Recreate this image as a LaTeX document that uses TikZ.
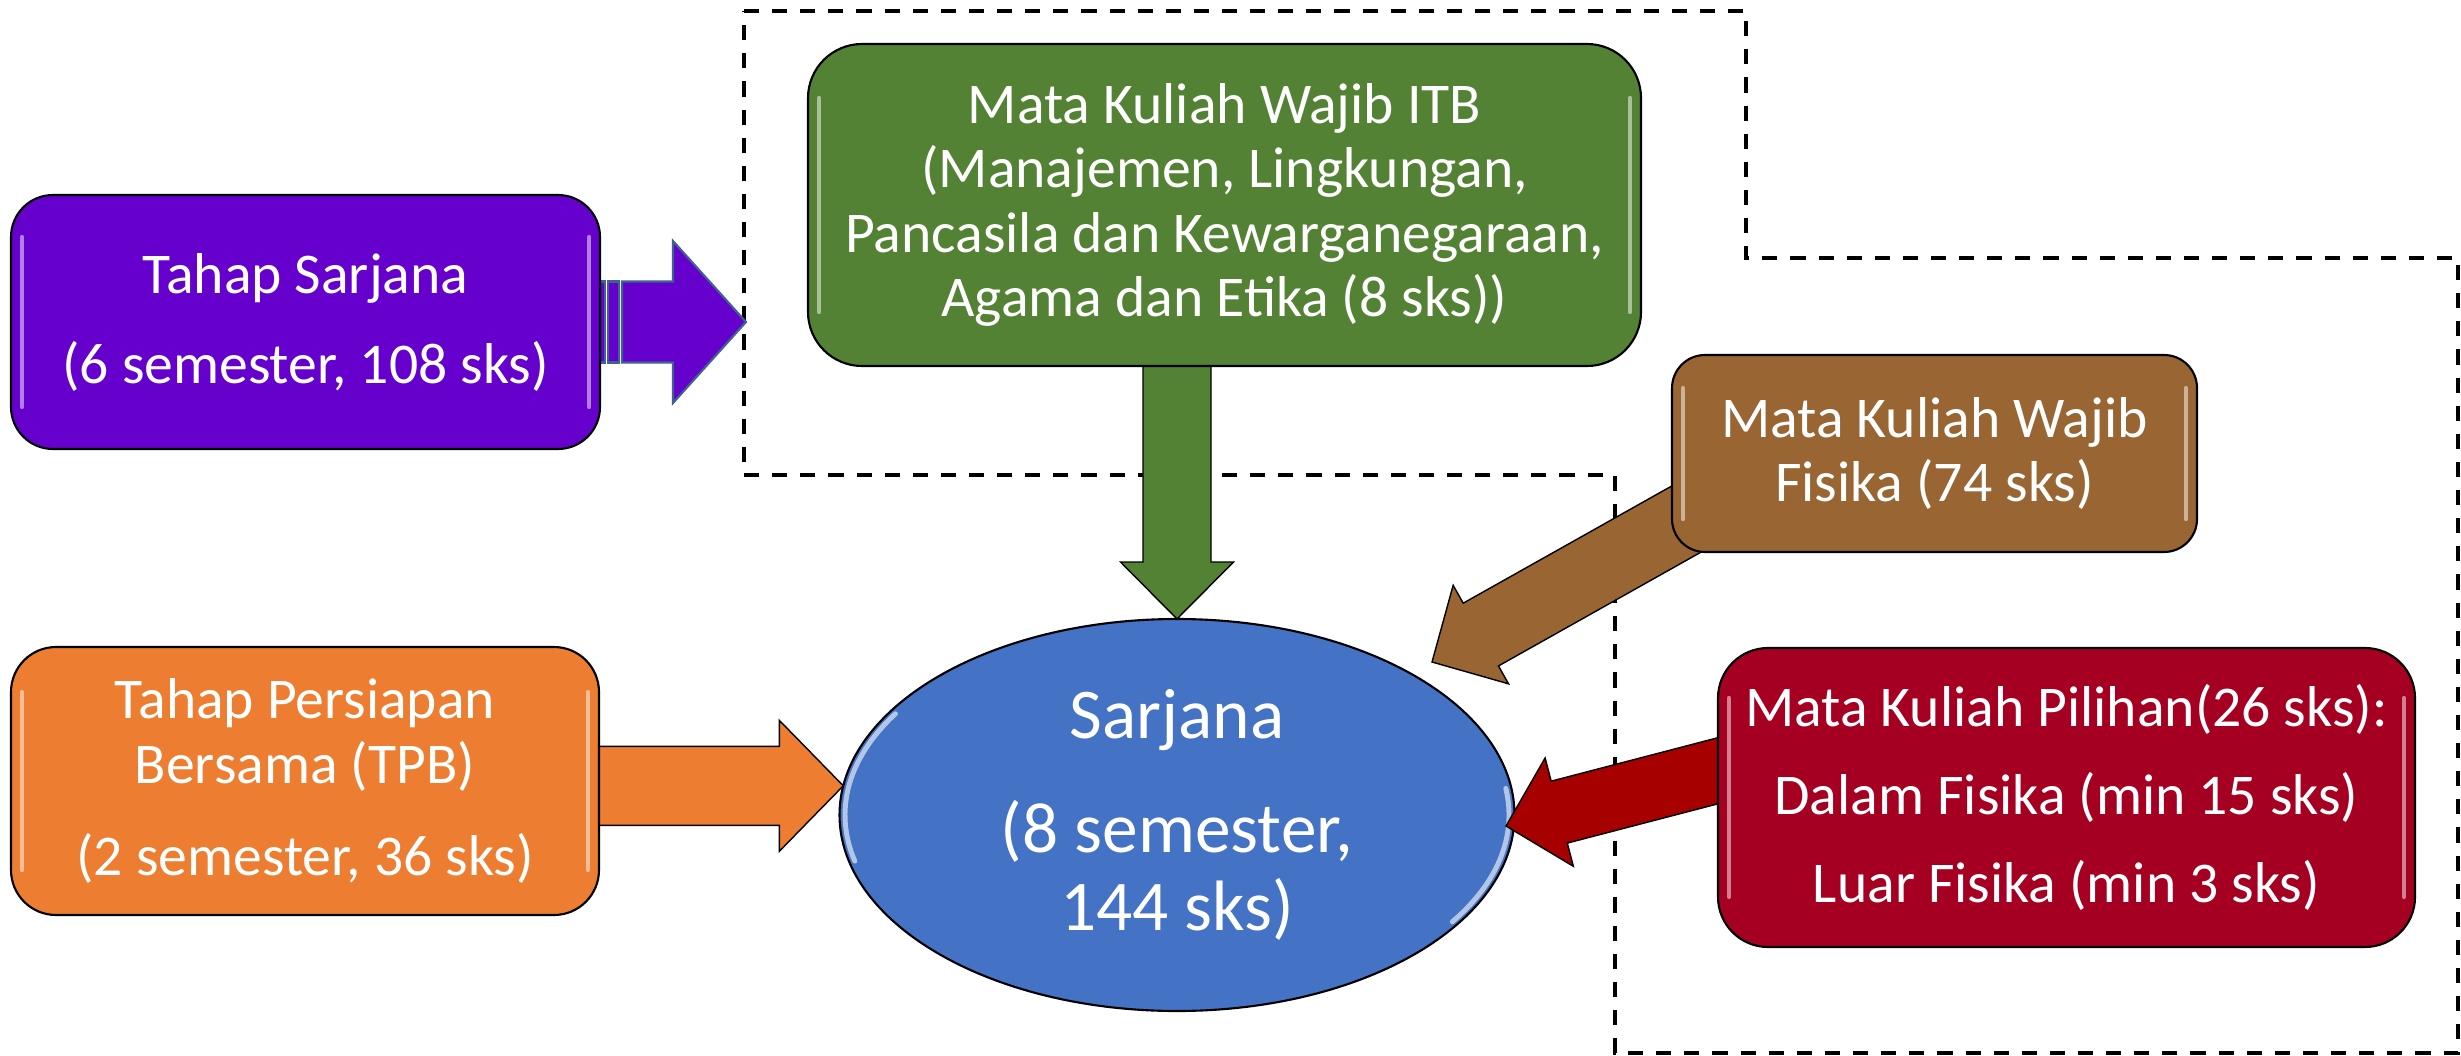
\documentclass[tikz,border=0pt]{standalone}
\usepackage{fontspec}
\setmainfont{Carlito}
\usetikzlibrary{calc,shapes.geometric}
\definecolor{cPurple}{HTML}{6600CC}
\definecolor{cPurpleLine}{HTML}{3F6293}
\definecolor{cGreen}{HTML}{548235}
\definecolor{cBrown}{HTML}{996633}
\definecolor{cOrange}{HTML}{ED7D31}
\definecolor{cBlue}{HTML}{4472C4}
\definecolor{cRed}{HTML}{A50021}
\definecolor{cRedArrow}{HTML}{A60000}
\pgfdeclarelayer{back}
\pgfdeclarelayer{arr}
\pgfsetlayers{back,arr,main}
% #1 style, #2 start, #3 tip, #4 half shaft, #5 half head, #6 head length
\newcommand\blockarrow[6]{%
  \coordinate (ba-h) at ($(#3)!#6!(#2)$);
  \filldraw[#1] ($(#2)!#4!90:(#3)$) -- ($(ba-h)!#4!-90:(#2)$) -- ($(ba-h)!#5!-90:(#2)$) -- (#3)
    -- ($(ba-h)!#5!90:(#2)$) -- ($(ba-h)!#4!90:(#2)$) -- ($(#2)!#4!-90:(#3)$) -- cycle;
}
% gloss lines inside a box: #1 node, #2 corner radius (px)
\newcommand\glossbox[2]{%
  \draw[glossline] ($(#1.north west)+(11,#2)$) -- ($(#1.south west)+(11,-#2)$);
  \draw[glossline] ($(#1.north east)+(-11,#2)$) -- ($(#1.south east)+(-11,-#2)$);
}
\begin{document}
\begin{tikzpicture}[x=0.1mm,y=-0.1mm,
  box/.style={rectangle, rounded corners=#1, draw=black, line width=0.6pt,
    inner sep=0pt, outer sep=0pt, text=white, align=center,
    font=\fontsize{16.4}{18.3}\selectfont},
  glossline/.style={white, opacity=0.5, line width=1.2pt, line cap=round},
  ellgloss/.style={cBlue!25!white, opacity=0.8, line width=1.4pt, line cap=round},
  arrowline/.style={draw=black, line width=0.4pt},
  parrow/.style={fill=cPurple, draw=cPurpleLine, line width=0.6pt},
  oarrow/.style={arrowline, fill=cOrange},
  garrow/.style={arrowline, fill=cGreen},
  barrow/.style={arrowline, fill=cBrown},
  rarrow/.style={arrowline, fill=cRedArrow},
  region/.style={draw=black, line width=0.95pt, dash pattern=on 4.3pt off 3.7pt}
]
\path[use as bounding box] (0,0) rectangle (2461,1056);

% ---------- boxes ----------
\node[box=4.2mm, fill=cPurple, minimum width=58.9mm, minimum height=25.4mm]
  (sarjanabox) at (305.5,322)
  {Tahap Sarjana\\[7.3pt](6 semester, 108 sks)};
\node[box=4.5mm, fill=cOrange, minimum width=58.8mm, minimum height=26.8mm]
  (tpbbox) at (305,781)
  {Tahap Persiapan\\Bersama (TPB)\\[7.9pt](2 semester, 36 sks)};
\node[box=5.4mm, fill=cGreen, minimum width=83.3mm, minimum height=32.2mm]
  (itbbox) at (1224.5,205)
  {Mata Kuliah Wajib ITB\\(Manajemen, Lingkungan,\\Pancasila dan Kewarganegaraan,\\Agama dan Etika (8 sks))};
\node[box=3.3mm, fill=cBrown, minimum width=52.5mm, minimum height=19.7mm]
  (fisikabox) at (1934.5,453.5)
  {Mata Kuliah Wajib\\Fisika (74 sks)};
\node[box=5mm, fill=cRed, minimum width=69.7mm, minimum height=29.9mm]
  (pilihanbox) at (2066.5,797.5)
  {Mata Kuliah Pilihan(26 sks):\\[6.7pt]Dalam Fisika (min 15 sks)\\[6.7pt]Luar Fisika (min 3 sks)};

\glossbox{sarjanabox}{42}
\glossbox{tpbbox}{45}
\glossbox{itbbox}{54}
\glossbox{fisikabox}{33}
\glossbox{pilihanbox}{50}

% ---------- background: dashed region and ellipse ----------
\begin{pgfonlayer}{back}
  \fill[white] (0,0) rectangle (2461,1056);
  \draw[region] (744,11) -- (1746,11) -- (1746,258) -- (2458,258) -- (2458,1053)
    -- (1615,1053) -- (1615,475) -- (744,475) -- cycle;
  \node[ellipse, draw=black, line width=0.6pt, fill=cBlue, minimum width=67.5mm,
    minimum height=39.2mm, inner sep=0pt, outer sep=0pt] (ell) at (1177,815) {};
  \draw[ellgloss] ($(ell.center)+({332*cos(166)},{191*sin(166)})$)
    arc[start angle=166, end angle=212, x radius=332, y radius=191];
  \draw[ellgloss] ($(ell.center)+({332*cos(-8)},{191*sin(-8)})$)
    arc[start angle=-8, end angle=34, x radius=332, y radius=191];
\end{pgfonlayer}

% ---------- block arrows ----------
\begin{pgfonlayer}{arr}
  % purple striped arrow
  \coordinate (pS) at ($(sarjanabox.east)+(22,0)$);
  \coordinate (ptip) at ($(sarjanabox.east)+(146,0)$);
  \blockarrow{parrow}{pS}{ptip}{4.05mm}{8.1mm}{7.3mm}
  \filldraw[parrow] ($(sarjanabox.east)+(0,-40.5)$) rectangle ($(sarjanabox.east)+(5,40.5)$);
  \filldraw[parrow] ($(sarjanabox.east)+(8,-40.5)$) rectangle ($(sarjanabox.east)+(19,40.5)$);
  % orange
  \coordinate (oS) at (tpbbox.east |- ell.175);
  \blockarrow{oarrow}{oS}{ell.175}{3.95mm}{6.55mm}{6.4mm}
  % green
  \coordinate (gS) at (ell.north |- itbbox.south);
  \blockarrow{garrow}{gS}{ell.north}{3.4mm}{5.65mm}{5.7mm}
  % brown
  \coordinate (bS) at ($(fisikabox.south west)+(18,-35)$);
  \coordinate (btip) at (1432,662);
  \blockarrow{barrow}{bS}{btip}{3.6mm}{5.65mm}{5.6mm}
  % red
  \coordinate (rS) at ($(pilihanbox.west)+(22,-32.5)$);
  \coordinate (rtip) at (1506,826);
  \blockarrow{rarrow}{rS}{rtip}{3.2mm}{5.6mm}{5.5mm}
\end{pgfonlayer}

% ---------- ellipse text ----------
\node[text=white, align=center, font=\fontsize{20.3}{22.2}\selectfont]
  (elltext) at (ell.center) {Sarjana\\[10.2pt](8 semester,\\144 sks)};
\end{tikzpicture}
\end{document}
